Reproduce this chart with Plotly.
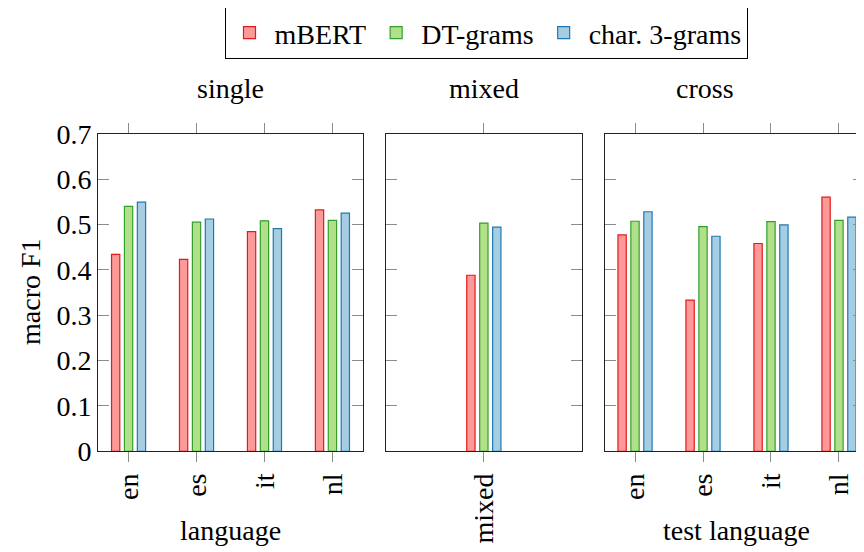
import plotly.graph_objects as go

# ---- data ----
series = ["mBERT", "DT-grams", "char. 3-grams"]
single_langs = ["en", "es", "it", "nl"]
single_mbert = [0.434, 0.423, 0.484, 0.532]
single_dt = [0.540, 0.505, 0.508, 0.509]
single_char = [0.549, 0.512, 0.491, 0.525]

mixed_langs = ["mixed"]
mixed_mbert = [0.388]
mixed_dt = [0.503]
mixed_char = [0.494]

cross_langs = ["en", "es", "it", "nl"]
cross_mbert = [0.477, 0.333, 0.458, 0.560]
cross_dt = [0.507, 0.495, 0.506, 0.509]
cross_char = [0.528, 0.474, 0.499, 0.516]

y_ticks = [0, 0.1, 0.2, 0.3, 0.4, 0.5, 0.6, 0.7]
y_ticktext = ["0", "0.1", "0.2", "0.3", "0.4", "0.5", "0.6", "0.7"]

fills = ["#fb9a99", "#b2df8a", "#a6cee3"]
edges = ["#e31a1c", "#33a02c", "#1f78b4"]

# page body has an 8px margin, so the figure is offset by 8px
OFF = 8
W, H = 864 - OFF, 552 - OFF
FONT = "Liberation Serif"
FS = 28


def fx(v):
    return (v - OFF) / W


def fy(v):
    return 1 - (v - OFF) / H


fig = go.Figure()

panels = [
    ("x", "y", single_langs, [single_mbert, single_dt, single_char]),
    ("x2", "y2", mixed_langs, [mixed_mbert, mixed_dt, mixed_char]),
    ("x3", "y3", cross_langs, [cross_mbert, cross_dt, cross_char]),
]

bw = 0.122
step = 0.19
for p, (xa, ya, cats, vals) in enumerate(panels):
    for k in range(3):
        fig.add_trace(go.Bar(
            x=cats, y=vals[k], xaxis=xa, yaxis=ya,
            name=series[k], legendgroup=series[k], showlegend=(p == 0),
            width=bw, offset=(k - 1) * step - bw / 2,
            marker=dict(color=fills[k], line=dict(color=edges[k], width=1.2)),
        ))

# dummy trace for right-side ticks of cut-off third panel
fig.add_trace(go.Scatter(x=[], y=[], xaxis="x3", yaxis="y4", showlegend=False))

yd = [fy(451.3), fy(133.7)]
d1 = [fx(98), fx(363)]
d2 = [fx(385.7), fx(582)]
d3 = [fx(604.7), 1.0]

tickc = "#8c8c8c"
linec = "#222222"

xcommon = dict(type="category", ticks="outside", ticklen=10, tickcolor=tickc,
               tickwidth=1, showline=True, linecolor=linec, linewidth=1,
               mirror="ticks", tickangle=-90, showgrid=False, zeroline=False,
               automargin=False,
               tickfont=dict(family=FONT, size=FS, color="black"))
ycommon = dict(range=[0, 0.7], tickvals=y_ticks, ticktext=y_ticktext,
               ticks="inside", ticklen=11, tickcolor=tickc, tickwidth=1,
               showline=True, linecolor=linec, linewidth=1,
               showgrid=False, zeroline=False, automargin=False,
               tickfont=dict(family=FONT, size=FS, color="black"))

fig.update_layout(
    width=W, height=H,
    margin=dict(l=0, r=0, t=0, b=0, pad=0, autoexpand=False),
    paper_bgcolor="white", plot_bgcolor="white",
    barmode="overlay",
    font=dict(family=FONT, size=FS, color="black"),
    xaxis=dict(domain=d1, anchor="y", range=[-0.45, 3.45], **xcommon),
    xaxis2=dict(domain=d2, anchor="y2", range=[-1.44, 1.44], **xcommon),
    xaxis3=dict(domain=d3, anchor="y3", range=[-0.446, 3.368], **xcommon),
    yaxis=dict(domain=yd, anchor="x", mirror="ticks", showticklabels=True, **ycommon),
    yaxis2=dict(domain=yd, anchor="x2", mirror="ticks", showticklabels=False, **ycommon),
    yaxis3=dict(domain=yd, anchor="x3", mirror=False, showticklabels=False, **ycommon),
    yaxis4=dict(domain=yd, anchor="x3", overlaying="y3", side="right",
                range=[0, 0.7], tickvals=y_ticks, ticks="inside", ticklen=11,
                tickcolor=tickc, tickwidth=1, showline=False, showgrid=False,
                zeroline=False, showticklabels=False, automargin=False),
    legend=dict(orientation="h", x=fx(486), xanchor="center", y=fy(7), yanchor="top",
                bordercolor="black", borderwidth=1, bgcolor="white",
                font=dict(family=FONT, size=FS), itemwidth=40,
                tracegroupgap=0),
    showlegend=True,
)

ann = [
    ("single", (98 + 363) / 2, 88, 0),
    ("mixed", 484, 88, 0),
    ("cross", 705, 88, 0),
    ("language", 230.5, 530, 0),
    ("test language", 736, 530, 0),
    ("macro F1", 30, 292, -90),
]
for text, x, y, ang in ann:
    fig.add_annotation(text=text, x=fx(x), y=fy(y), xref="paper", yref="paper",
                       xanchor="center", yanchor="middle", showarrow=False,
                       textangle=ang, font=dict(family=FONT, size=FS, color="black"))

fig.write_html("out.html")
